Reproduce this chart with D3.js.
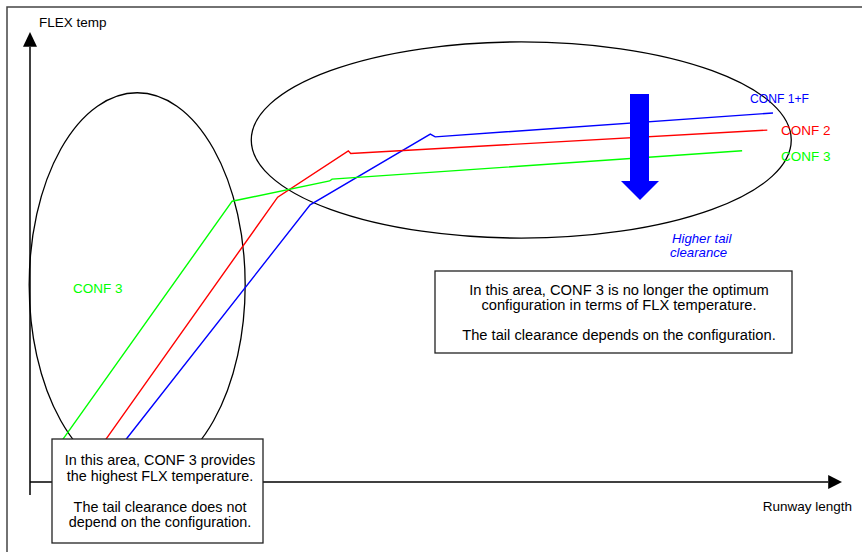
<!DOCTYPE html>
<html>
<head>
<meta charset="utf-8">
<script src="https://cdn.jsdelivr.net/npm/d3@7"></script>
<style>
  body { margin: 0; background: #fff; }
  svg { display: block; font-family: "Liberation Sans", Arial, Helvetica, sans-serif; }
</style>
</head>
<body>
<div id="chart"></div>
<script>
// Data (runway length 0-100, flex temp 0-100, arbitrary units)
const seriesNames = ['CONF 1+F', 'CONF 2', 'CONF 3'];
const seriesColors = ['#0000ff', '#ff0000', '#00ff00'];
const conf1fX = [10.8, 34.5, 49.3, 49.9, 91.5];
const conf1fY = [7.1, 61.6, 77.3, 76.7, 82.0];
const conf2X = [8.4, 30.5, 39.2, 39.5, 90.8];
const conf2Y = [7.1, 63.3, 73.6, 73.0, 78.2];
const conf3X = [3.1, 24.9, 36.9, 37.2, 87.7];
const conf3Y = [7.1, 62.4, 66.9, 67.3, 73.6];

const xAxisLabel = 'Runway length';
const yAxisLabel = 'FLEX temp';

// Zones: [cx, cy, rx, ry]
const zoneLow = [13.2, 43.8, 13.3, 42.7];
const zoneHigh = [60.5, 76.0, 33.25, 21.8];

const noteLow = ['In this area, CONF 3 provides', 'the highest FLX temperature.', '', 'The tail clearance does not', 'depend on the configuration.'];
const noteHigh = ['In this area, CONF 3 is no longer the optimum', 'configuration in terms of FLX temperature.', '', 'The tail clearance depends on the configuration.'];
const arrowNote = ['Higher tail', 'clearance'];

document.addEventListener('DOMContentLoaded', () => {
    const width = 862, height = 552;
    const svg = d3.select('#chart').append('svg')
        .attr('width', width)
        .attr('height', height);

    const x = d3.scaleLinear().domain([0, 100]).range([30, 842]);
    const y = d3.scaleLinear().domain([0, 100]).range([482, 32]);
    const sx = d => x(d) - x(0);
    const sy = d => y(0) - y(d);

    // outer frame (only top and left visible)
    svg.append('rect')
        .attr('x', 7).attr('y', 7)
        .attr('width', 900).attr('height', 600)
        .attr('fill', 'none')
        .attr('stroke', '#444')
        .attr('stroke-width', 1.5);

    // axes
    const axes = svg.append('g').attr('stroke', '#000').attr('fill', '#000');
    axes.append('line')
        .attr('x1', x(0)).attr('y1', y(0) + 13)
        .attr('x2', x(0)).attr('y2', y(96.7))
        .attr('stroke-width', 1.5);
    axes.append('path')
        .attr('d', `M${x(0) - 7},${y(96.7)}L${x(0) + 7},${y(96.7)}L${x(0)},${y(100)}Z`)
        .attr('stroke', 'none');
    axes.append('line')
        .attr('x1', x(0)).attr('y1', y(0))
        .attr('x2', x(98.3)).attr('y2', y(0))
        .attr('stroke-width', 1.5);
    axes.append('path')
        .attr('d', `M${x(98.3)},${y(0) - 7}L${x(98.3)},${y(0) + 7}L${x(100)},${y(0)}Z`)
        .attr('stroke', 'none');

    svg.append('text')
        .attr('x', 39).attr('y', 27)
        .attr('font-size', 13.5)
        .text(yAxisLabel);
    svg.append('text')
        .attr('x', 852).attr('y', 511)
        .attr('text-anchor', 'end')
        .attr('font-size', 13.5)
        .text(xAxisLabel);

    // zone ellipses
    [zoneLow, zoneHigh].forEach(z => {
        svg.append('ellipse')
            .attr('cx', x(z[0])).attr('cy', y(z[1]))
            .attr('rx', sx(z[2])).attr('ry', sy(z[3]))
            .attr('fill', 'none')
            .attr('stroke', '#000')
            .attr('stroke-width', 1.3);
    });

    // series lines
    const series = [
        { xs: conf1fX, ys: conf1fY },
        { xs: conf2X, ys: conf2Y },
        { xs: conf3X, ys: conf3Y }
    ];
    const line = d3.line().x(d => x(d[0])).y(d => y(d[1]));
    series.forEach((s, i) => {
        svg.append('path')
            .datum(d3.zip(s.xs, s.ys))
            .attr('d', line)
            .attr('fill', 'none')
            .attr('stroke', seriesColors[i])
            .attr('stroke-width', 1.4);
    });

    // series labels
    const labelPos = [[750, 103], [781, 135], [781, 161]];
    seriesNames.forEach((name, i) => {
        const t = svg.append('text')
            .attr('x', labelPos[i][0]).attr('y', labelPos[i][1])
            .attr('font-size', 13.5)
            .attr('fill', seriesColors[i])
            .text(name);
        if (i === 0) t.attr('textLength', 59).attr('lengthAdjust', 'spacingAndGlyphs');
    });

    svg.append('text')
        .attr('x', 73).attr('y', 293)
        .attr('font-size', 13.5)
        .attr('fill', seriesColors[2])
        .text(seriesNames[2]);

    // big down arrow
    svg.append('path')
        .attr('d', 'M630,94L649,94L649,181L659,181L640,200L621,181L630,181Z')
        .attr('fill', '#0000ff');

    const an = svg.append('text')
        .attr('font-size', 13.2)
        .attr('font-style', 'italic')
        .attr('fill', '#0000ff');
    arrowNote.forEach((t, i) => {
        an.append('tspan').attr('x', i === 0 ? 672 : 670).attr('y', 243 + i * 14).text(t);
    });

    // note boxes
    function noteBox(x0, y0, w, h, lines, cx, firstBase, lh, fs) {
        svg.append('rect')
            .attr('x', x0).attr('y', y0)
            .attr('width', w).attr('height', h)
            .attr('fill', '#fff')
            .attr('stroke', '#222')
            .attr('stroke-width', 1.3);
        const t = svg.append('text')
            .attr('font-size', fs)
            .attr('text-anchor', 'middle');
        lines.forEach((l, i) => {
            t.append('tspan').attr('x', cx).attr('y', firstBase + i * lh).text(l);
        });
    }
    noteBox(435, 271, 357, 82, noteHigh, 619, 295, 15, 14.7);
    noteBox(52, 439, 211, 104, noteLow, 160, 465, 15.5, 14.4);
});
</script>
</body>
</html>
